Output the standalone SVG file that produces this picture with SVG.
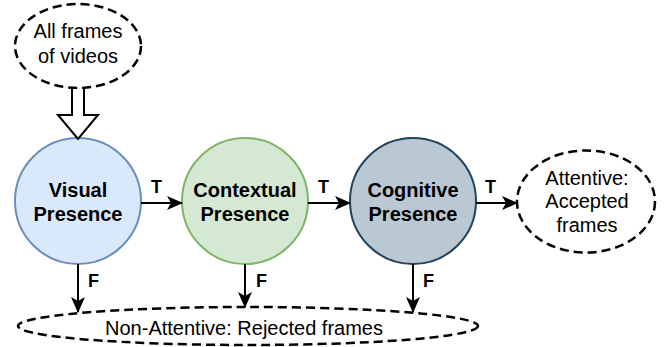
<svg xmlns="http://www.w3.org/2000/svg" width="672" height="347" viewBox="0 0 672 347">
<style>
.t{font-family:"Liberation Sans",Arial,sans-serif;font-size:20px;fill:#000;text-anchor:middle}
.b{font-weight:bold}
.lbl{font-family:"Liberation Sans",Arial,sans-serif;font-size:18px;font-weight:bold;fill:#000}
.dash{fill:#fff;stroke:#000;stroke-width:2.5;stroke-dasharray:9 5}
.thin{fill:none;stroke:#ccc;stroke-width:0.6}
.edge{stroke:#000;stroke-width:2;fill:none}
</style>
<defs>
<marker id="ah" viewBox="0 0 16 14" refX="15" refY="7" markerWidth="16" markerHeight="14" markerUnits="userSpaceOnUse" orient="auto">
<path d="M0,0 L16,7 L0,14 L4,7 Z" fill="#000"/>
</marker>
</defs>
<rect width="672" height="347" fill="#fff"/>
<g id="all-frames">
<ellipse class="thin" cx="78" cy="46" rx="63" ry="42"/>
<ellipse class="dash" cx="78" cy="46" rx="63" ry="42"/>
<text class="t" x="78" y="38">All frames</text>
<text class="t" x="78" y="63">of videos</text>
</g>
<g id="visual">
<circle cx="78" cy="201" r="63" fill="#dae8fc" stroke="#6c8ebf" stroke-width="2"/>
<text class="t b" x="78" y="197">Visual</text>
<text class="t b" x="78" y="221">Presence</text>
</g>
<g id="contextual">
<circle cx="245" cy="201" r="63" fill="#d5e8d4" stroke="#82b366" stroke-width="2"/>
<text class="t b" x="245" y="197">Contextual</text>
<text class="t b" x="245" y="221">Presence</text>
</g>
<g id="cognitive">
<circle cx="413" cy="201" r="63" fill="#bac8d3" stroke="#23445d" stroke-width="2"/>
<text class="t b" x="413" y="197">Cognitive</text>
<text class="t b" x="413" y="221">Presence</text>
</g>
<g id="attentive">
<ellipse class="thin" cx="586" cy="201.5" rx="69" ry="51"/>
<ellipse class="dash" cx="586" cy="201.5" rx="69" ry="51"/>
<text class="t" x="587" y="185">Attentive:</text>
<text class="t" x="587" y="208">Accepted</text>
<text class="t" x="587" y="232">frames</text>
</g>
<g id="rejected">
<ellipse class="thin" cx="248" cy="326" rx="230" ry="19"/>
<ellipse class="dash" cx="248" cy="326" rx="230" ry="19"/>
<text class="t" x="244" y="335">Non-Attentive: Rejected frames</text>
</g>
<g id="connectors">
<path d="M72,89 L72,115 L58,115 L78,139 L98,115 L84,115 L84,89" fill="#fff" stroke="#000" stroke-width="2" stroke-linejoin="miter"/>
<line class="edge" x1="141" y1="203" x2="182" y2="203" marker-end="url(#ah)"/>
<line class="edge" x1="308" y1="203" x2="350" y2="203" marker-end="url(#ah)"/>
<line class="edge" x1="476" y1="203" x2="517" y2="203" marker-end="url(#ah)"/>
<line class="edge" x1="78" y1="264" x2="78" y2="312" marker-end="url(#ah)"/>
<line class="edge" x1="245" y1="264" x2="245" y2="307" marker-end="url(#ah)"/>
<line class="edge" x1="413" y1="264" x2="413" y2="312" marker-end="url(#ah)"/>
<text class="lbl" x="151" y="193">T</text>
<text class="lbl" x="318" y="193">T</text>
<text class="lbl" x="485" y="193">T</text>
<text class="lbl" x="88" y="287">F</text>
<text class="lbl" x="256" y="287">F</text>
<text class="lbl" x="423" y="287">F</text>
</g>
</svg>
